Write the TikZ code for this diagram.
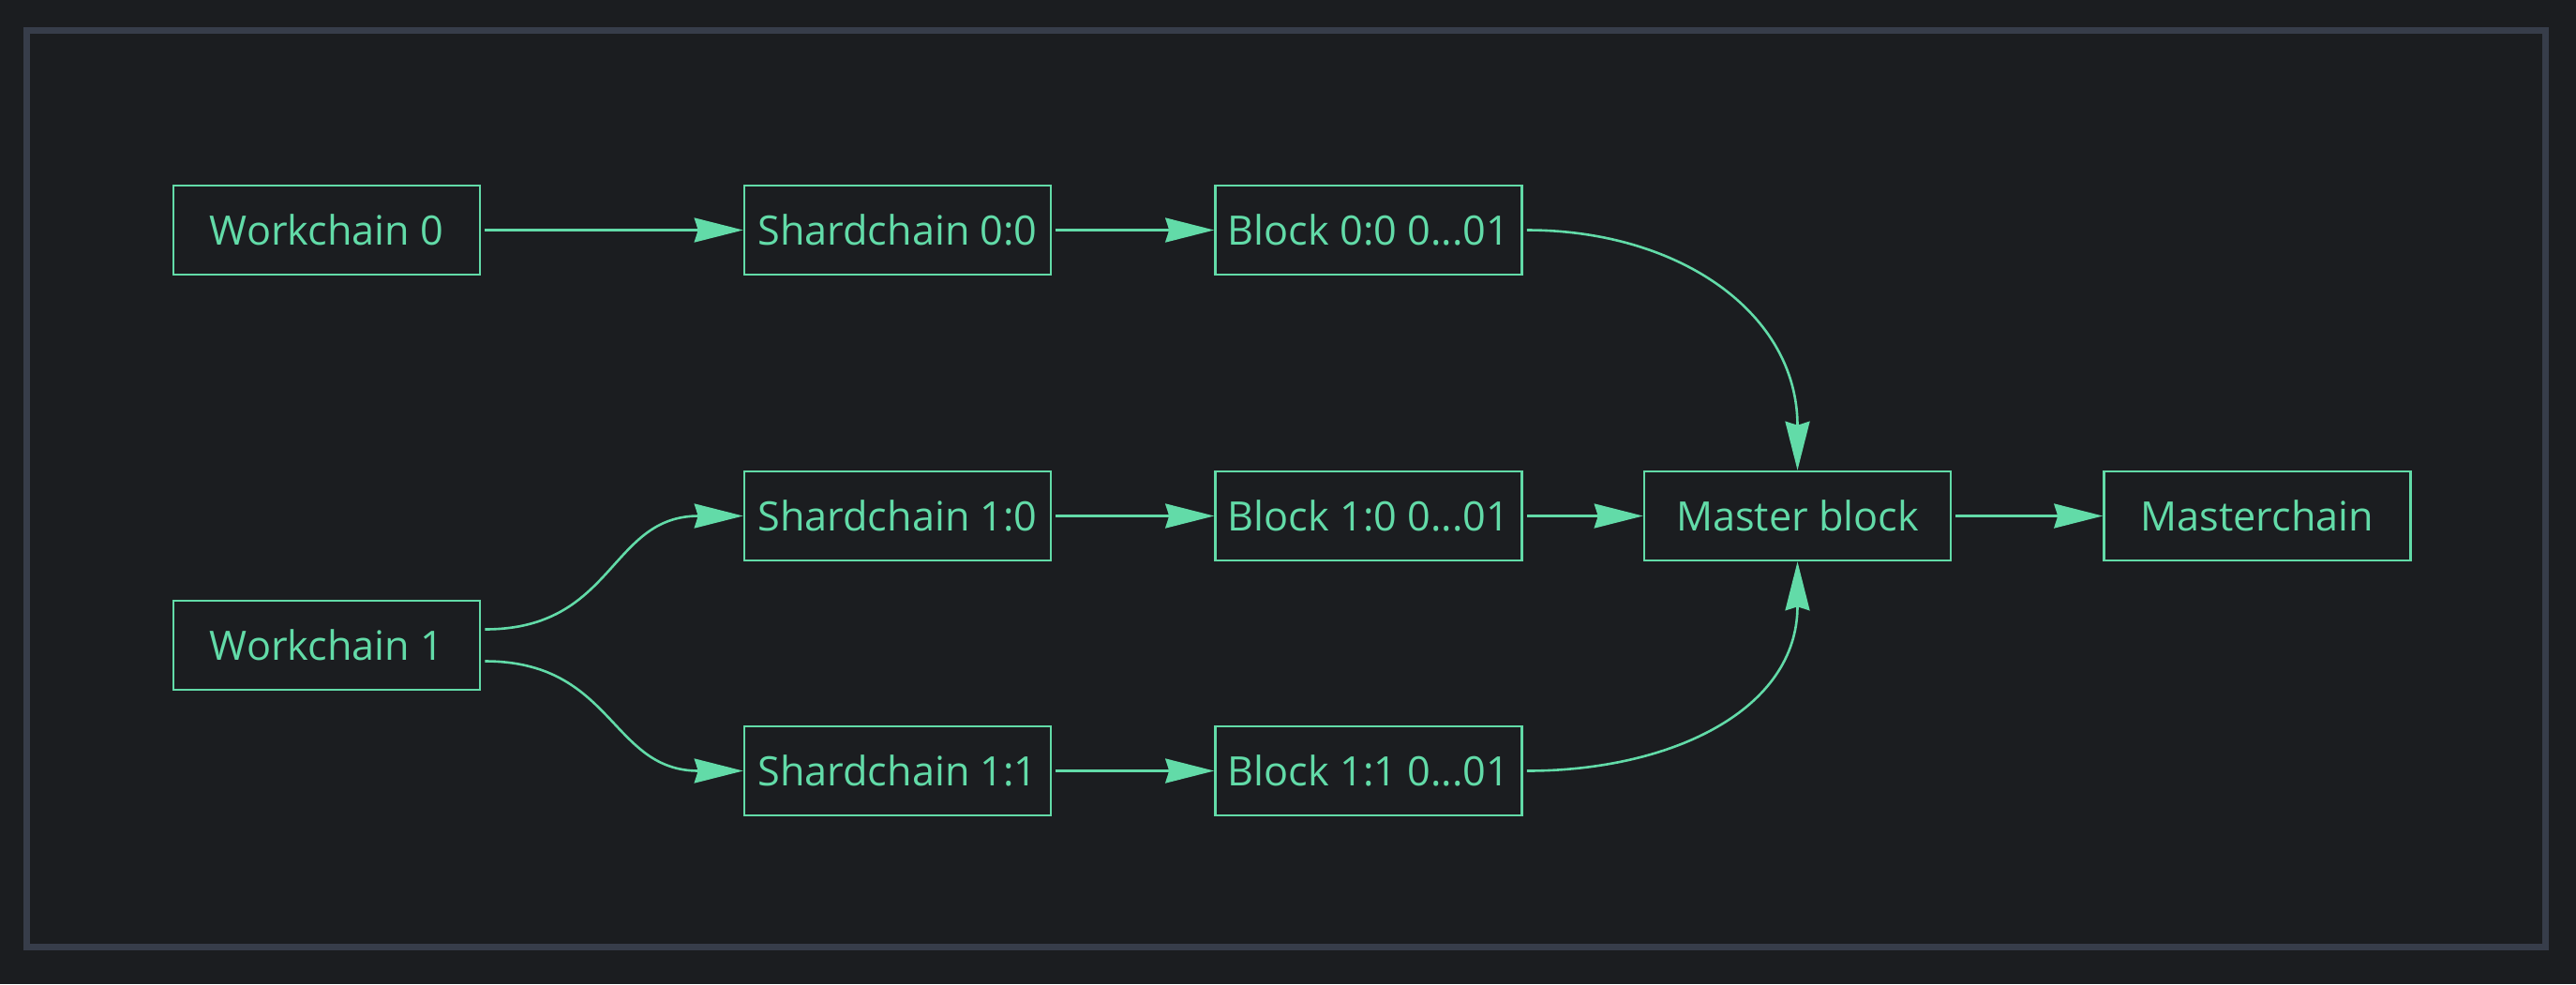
\documentclass[tikz,border=0pt]{standalone}
\usepackage{fontspec}
\setmainfont{Open Sans}
\usetikzlibrary{arrows.meta}
\definecolor{Page Dark}{HTML}{1B1D20}
\definecolor{Frame Gray}{HTML}{373D4A}
\definecolor{Chain Green}{HTML}{62DBA8}

\begin{document}
\begin{tikzpicture}[
    chainbox/.style={draw=Chain Green, line width=0.026cm, text=Chain Green,
        minimum width=3.27cm, minimum height=0.95cm, inner xsep=0.1cm,
        font=\fontsize{12.3}{15}\selectfont},
    link/.style={draw=Chain Green, line width=0.026cm, shorten <=0.04cm,
        -{Stealth[length=0.52cm, width=0.26cm, inset=0.04cm]}}
]
    % Background and outer frame
    \fill[Page Dark] (0, 0) rectangle (27.48, -10.50);
    \draw[Frame Gray, line width=0.07cm] (0.285, -0.325) rectangle (27.155, -10.10);

    % Chain boxes (labels with dots kept in braces)
    \foreach \name/\label/\x/\y in {
        w0/Workchain 0/3.485/-2.455,
        s00/Shardchain 0:0/9.575/-2.455,
        b00/{Block 0:0 0...01}/14.60/-2.455,
        w1/Workchain 1/3.485/-6.885,
        s10/Shardchain 1:0/9.575/-5.505,
        b10/{Block 1:0 0...01}/14.60/-5.505,
        s11/Shardchain 1:1/9.575/-8.225,
        b11/{Block 1:1 0...01}/14.60/-8.225,
        mb/Master block/19.175/-5.505,
        mc/Masterchain/24.08/-5.505
    } {
        \node[chainbox] (\name) at (\x, \y) {\label};
    }

    % Straight links
    \draw[link] (w0) -- (s00);
    \draw[link] (s00) -- (b00);
    \draw[link] (s10) -- (b10);
    \draw[link] (s11) -- (b11);
    \draw[link] (b10) -- (mb);
    \draw[link] (mb) -- (mc);

    % Curved links
    \draw[link] ([yshift=0.17cm]w1.east) to[out=0, in=180, looseness=1.2] (s10.west);
    \draw[link] ([yshift=-0.17cm]w1.east) to[out=0, in=180, looseness=1.2] (s11.west);
    \draw[link] (b00.east) to[out=0, in=90, looseness=1.1] (mb.north);
    \draw[link] (b11.east) to[out=0, in=-90, looseness=1.1] (mb.south);
\end{tikzpicture}
\end{document}
